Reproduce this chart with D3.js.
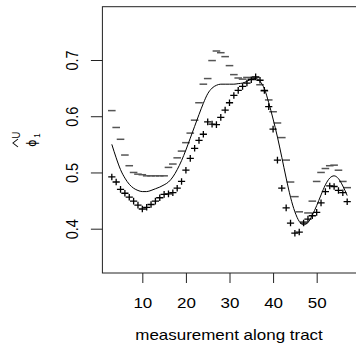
<!DOCTYPE html>
<html>
<head>
<meta charset="utf-8">
<script src="https://cdn.jsdelivr.net/npm/d3@7"></script>
<style>
  body { margin: 0; background: #fff; }
  text { font-family: "Liberation Sans", Arial, sans-serif; }
</style>
</head>
<body>
<div id="vis"></div>
<script>
// ==== DATA ====
const positions = [3, 4, 5, 6, 7, 8, 9, 10, 11, 12, 13, 14, 15, 16, 17, 18, 19, 20,
  21, 22, 23, 24, 25, 26, 27, 28, 29, 30, 31, 32, 33, 34, 35, 36, 37, 38, 39, 40,
  41, 42, 43, 44, 45, 46, 47, 48, 49, 50, 51, 52, 53, 54, 55, 56, 57];

// "+" points
const plusVals = [0.492, 0.483, 0.470, 0.463, 0.456, 0.449, 0.442, 0.435, 0.438, 0.443,
  0.449, 0.455, 0.461, 0.462, 0.464, 0.472, 0.484, 0.504, 0.525, 0.543,
  0.557, 0.568, 0.590, 0.586, 0.585, 0.598, 0.611, 0.624, 0.637, 0.646,
  0.653, 0.659, 0.665, 0.670, 0.664, 0.646, 0.617, 0.577, 0.522, 0.472,
  0.437, 0.410, 0.392, 0.394, 0.410, 0.417, 0.423, 0.429, 0.446, 0.466,
  0.476, 0.475, 0.468, 0.464, 0.448];

// "-" points
const dashVals = [0.610, 0.580, 0.559, 0.531, 0.512, 0.500, 0.497, 0.496, 0.494, 0.494,
  0.494, 0.494, 0.494, 0.509, 0.515, 0.526, 0.538, 0.553, 0.570, 0.593,
  0.624, 0.657, 0.667, 0.699, 0.716, 0.713, 0.706, 0.690, 0.674, 0.668,
  0.666, 0.669, 0.668, 0.669, 0.656, 0.645, 0.629, 0.608, 0.588, 0.562,
  0.522, 0.483, 0.457, 0.430, 0.412, 0.428, 0.449, 0.484, 0.500, 0.507,
  0.512, 0.513, 0.504, 0.484, 0.473];

// smooth curve
const lineVals = [0.550, 0.526, 0.505, 0.490, 0.479, 0.472, 0.468, 0.466, 0.466, 0.468,
  0.471, 0.474, 0.478, 0.483, 0.492, 0.505, 0.521, 0.540, 0.561, 0.582,
  0.603, 0.623, 0.640, 0.650, 0.655, 0.657, 0.657, 0.657, 0.657, 0.658,
  0.659, 0.662, 0.666, 0.667, 0.662, 0.649, 0.624, 0.595, 0.563, 0.527,
  0.490, 0.456, 0.430, 0.413, 0.407, 0.411, 0.424, 0.441, 0.460, 0.478,
  0.490, 0.494, 0.489, 0.476, 0.459];

const xTicks = [10, 20, 30, 40, 50];
const yTicks = [0.4, 0.5, 0.6, 0.7];

// ==== SETUP ====
const width = 356, height = 348;
const sx = 1.17; // text looks stretched sideways in the picture

const svg = d3.select("#vis")
  .append("svg")
  .attr("width", width)
  .attr("height", height);

const x = d3.scaleLinear().domain([0.84, 59.16]).range([102.4, 356.6]);
const y = d3.scaleLinear().domain([0.3212, 0.7948]).range([273, 6.7]);

// box
svg.append("rect")
  .attr("x", x.range()[0])
  .attr("y", y.range()[1])
  .attr("width", x.range()[1] - x.range()[0])
  .attr("height", y.range()[0] - y.range()[1])
  .attr("fill", "none")
  .attr("stroke", "#222")
  .attr("stroke-width", 1);

// ==== AXES ====
const xAxis = svg.append("g")
  .attr("transform", `translate(0,${y.range()[0]})`)
  .call(d3.axisBottom(x).tickValues(xTicks).tickSize(10).tickFormat(d3.format("d")));
xAxis.select(".domain").remove();
xAxis.selectAll("line").attr("stroke", "#222");
xAxis.selectAll("text")
  .attr("y", 35).attr("dy", 0)
  .attr("transform", `scale(${sx},1)`)
  .style("font-size", "14.5px")
  .attr("fill", "#000");

const yAxis = svg.append("g")
  .attr("transform", `translate(${x.range()[0]},0)`)
  .call(d3.axisLeft(y).tickValues(yTicks).tickSize(11.5).tickFormat(d3.format(".1f")));
yAxis.select(".domain").remove();
yAxis.selectAll("line").attr("stroke", "#222");
yAxis.selectAll("text")
  .attr("x", 0).attr("y", 0).attr("dy", 0)
  .attr("text-anchor", "middle")
  .attr("transform", `translate(-24.4,0) scale(${sx},1) rotate(-90)`)
  .style("font-size", "14.5px")
  .attr("fill", "#000");

// x title
svg.append("text")
  .attr("text-anchor", "middle")
  .attr("transform", `translate(229,340) scale(${sx},1)`)
  .style("font-size", "14.5px")
  .text("measurement along tract");

// y title: phi-hat, sub 1, sup U
const yt = svg.append("g")
  .attr("transform", `translate(36,143) scale(${sx},1) rotate(-90)`);
yt.append("text")
  .attr("text-anchor", "middle")
  .style("font-family", "'DejaVu Sans', sans-serif")
  .style("font-size", "11px")
  .text("\u03D5");
yt.append("text")
  .attr("x", 5.3).attr("y", 3)
  .style("font-size", "8px")
  .text("1");
yt.append("text")
  .attr("x", 8).attr("y", -13.7)
  .attr("text-anchor", "middle")
  .style("font-size", "9.5px")
  .text("U");
yt.append("path")
  .attr("d", "M-4,-15.4L0,-19.7L4,-15.4")
  .attr("fill", "none")
  .attr("stroke", "#000")
  .attr("stroke-width", 0.9);

// ==== MARKS ====
const dashData = positions.map((p, i) => ({x: p, y: dashVals[i]}));
const plusData = positions.map((p, i) => ({x: p, y: plusVals[i]}));
const lineData = positions.map((p, i) => ({x: p, y: lineVals[i]}));

svg.append("g")
  .selectAll("line")
  .data(dashData)
  .enter()
  .append("line")
  .attr("x1", d => x(d.x) - 3.8)
  .attr("x2", d => x(d.x) + 3.8)
  .attr("y1", d => y(d.y))
  .attr("y2", d => y(d.y))
  .attr("stroke", "#555")
  .attr("stroke-width", 1.5);

svg.append("path")
  .datum(lineData)
  .attr("fill", "none")
  .attr("stroke", "#000")
  .attr("stroke-width", 1)
  .attr("d", d3.line().x(d => x(d.x)).y(d => y(d.y)).curve(d3.curveMonotoneX));

svg.append("g")
  .selectAll("path")
  .data(plusData)
  .enter()
  .append("path")
  .attr("d", d => {
    const cx = x(d.x), cy = y(d.y);
    return `M${cx - 3.6},${cy}H${cx + 3.6}M${cx},${cy - 3.3}V${cy + 3.3}`;
  })
  .attr("stroke", "#000")
  .attr("stroke-width", 1.3)
  .attr("fill", "none");
</script>
</body>
</html>
